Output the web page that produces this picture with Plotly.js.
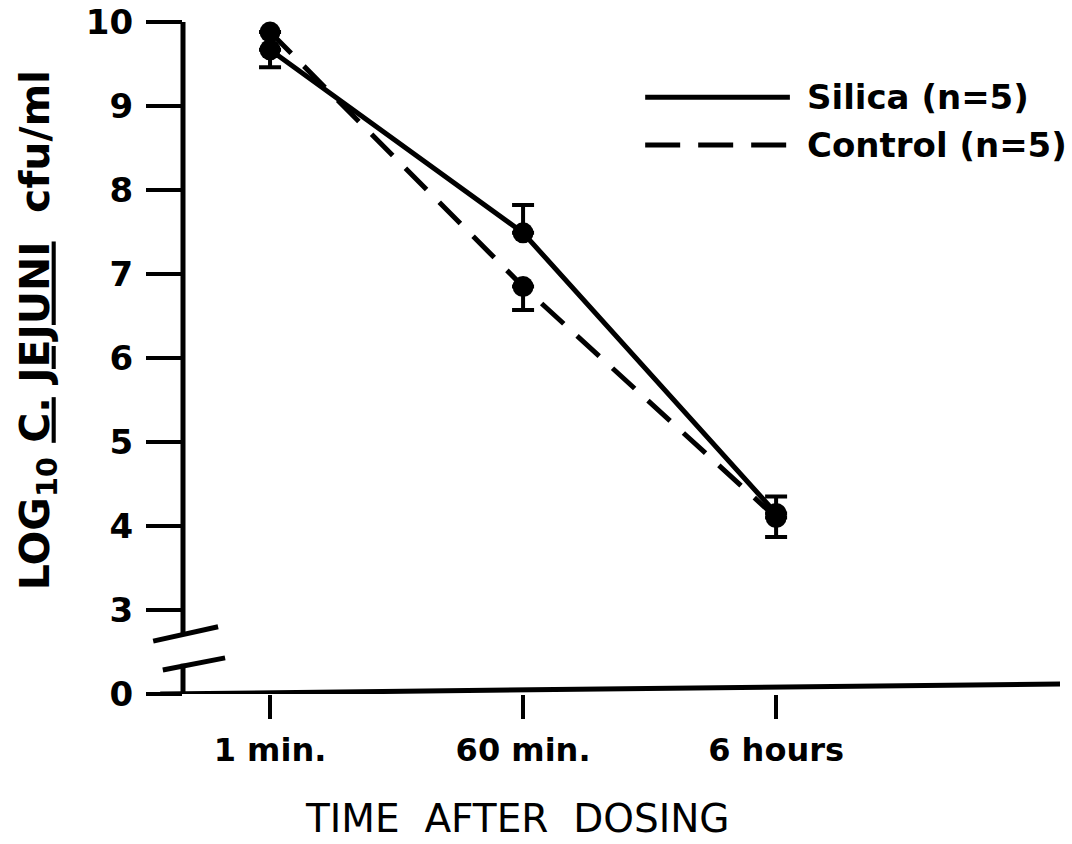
<!DOCTYPE html>
<html>
<head>
<meta charset="utf-8">
<script src="https://cdn.plot.ly/plotly-3.0.1.min.js"></script>
<style>html,body{margin:0;padding:0;background:#fff;}#chart{width:1072px;height:844px;}</style>
</head>
<body>
<div id="chart"></div>
<script>
// ---- data ----
var categories = ["1 min.", "60 min.", "6 hours"];
var silica = [9.67, 7.49, 4.15];
var silicaErrPlus = [0, 0.33, 0.2];
var silicaErrMinus = [0.21, 0, 0];
var control = [9.88, 6.85, 4.10];
var controlErrPlus = [0.2, 0, 0];
var controlErrMinus = [0, 0.28, 0.23];
// y tick positions (axis break: "0" is drawn one step below 3)
var yTickVals = [2, 3, 4, 5, 6, 7, 8, 9, 10];
var yTickText = ["0", "3", "4", "5", "6", "7", "8", "9", "10"];
var seriesNames = ["Silica (n=5)", "Control (n=5)"];

var FONT = "DejaVu Sans";
var INK = "#000";

var traces = [
  {
    x: categories, y: silica, type: "scatter", mode: "lines+markers",
    name: seriesNames[0], showlegend: false, cliponaxis: false,
    line: {color: INK, width: 5},
    marker: {color: INK, size: 21},
    error_y: {type: "data", symmetric: false, array: silicaErrPlus, arrayminus: silicaErrMinus,
              color: INK, thickness: 4, width: 11}
  },
  {
    x: categories, y: control, type: "scatter", mode: "lines+markers",
    name: seriesNames[1], showlegend: false, cliponaxis: false,
    line: {color: INK, width: 5, dash: "30px,18px"},
    marker: {color: INK, size: 21},
    error_y: {type: "data", symmetric: false, array: controlErrPlus, arrayminus: controlErrMinus,
              color: INK, thickness: 4, width: 11}
  }
];

var layout = {
  width: 1072, height: 844,
  margin: {l: 183, r: 12, t: 22, b: 150},
  paper_bgcolor: "#fff", plot_bgcolor: "#fff",
  showlegend: false,
  font: {family: FONT, color: INK, size: 32},
  xaxis: {
    type: "category", range: [-0.344, 3.122],
    showgrid: false, zeroline: false, showline: false,
    ticks: "outside", ticklen: 24, tickwidth: 4, tickcolor: INK,
    tickfont: {family: FONT, size: 32, color: INK, weight: "bold"},
    ticklabelstandoff: 4
  },
  yaxis: {
    range: [2, 10], showgrid: false, zeroline: false, showline: false,
    tickmode: "array", tickvals: yTickVals, ticktext: yTickText,
    ticks: "outside", ticklen: 36, tickwidth: 4, tickcolor: INK,
    tickfont: {family: FONT, size: 34, color: INK, weight: "bold"},
    ticklabelstandoff: 6
  },
  shapes: [
    // y axis (upper part, above the break)
    {type: "line", xref: "paper", yref: "y", x0: 0, x1: 0, y0: 10, y1: 2.70, line: {color: INK, width: 5}},
    // y axis (lower part, below the break)
    {type: "line", xref: "paper", yref: "y", x0: 0, x1: 0, y0: 2.36, y1: 2.0, line: {color: INK, width: 5}},
    // break marks
    {type: "line", xref: "paper", yref: "y", x0: -0.034, x1: 0.040, y0: 2.63, y1: 2.80, line: {color: INK, width: 5}},
    {type: "line", xref: "paper", yref: "y", x0: -0.023, x1: 0.048, y0: 2.286, y1: 2.43, line: {color: INK, width: 5}},
    // x axis
    {type: "line", xref: "paper", yref: "y", x0: -0.026, x1: 1.0, y0: 2.0, y1: 2.12, line: {color: INK, width: 5}},
    // legend samples
    {type: "line", xref: "paper", yref: "paper", x0: 0.527, x1: 0.692, y0: 0.888, y1: 0.888, line: {color: INK, width: 5}},
    {type: "line", xref: "paper", yref: "paper", x0: 0.527, x1: 0.692, y0: 0.817, y1: 0.817, line: {color: INK, width: 5, dash: "35px,18px"}}
  ],
  annotations: [
    {text: seriesNames[0], xref: "paper", yref: "paper", x: 0.709, y: 0.888, xanchor: "left", yanchor: "middle",
     showarrow: false, font: {family: FONT, size: 34, color: INK, weight: "bold"}},
    {text: seriesNames[1], xref: "paper", yref: "paper", x: 0.709, y: 0.817, xanchor: "left", yanchor: "middle",
     showarrow: false, font: {family: FONT, size: 34, color: INK, weight: "bold"}},
    {text: "TIME  AFTER  DOSING", xref: "paper", yref: "paper", x: 0.381, y: -0.186, xanchor: "center", yanchor: "middle",
     showarrow: false, font: {family: FONT, size: 39, color: INK}},
    {text: "LOG<sub>10</sub> <u>C.</u> <u>JEJUNI</u>  cfu/ml", xref: "paper", yref: "paper", x: -0.166, y: 0.542,
     xanchor: "center", yanchor: "middle", textangle: -90,
     showarrow: false, font: {family: FONT, size: 41, color: INK, weight: "bold"}}
  ]
};

Plotly.newPlot("chart", traces, layout, {displayModeBar: false, staticPlot: true});
</script>
</body>
</html>
